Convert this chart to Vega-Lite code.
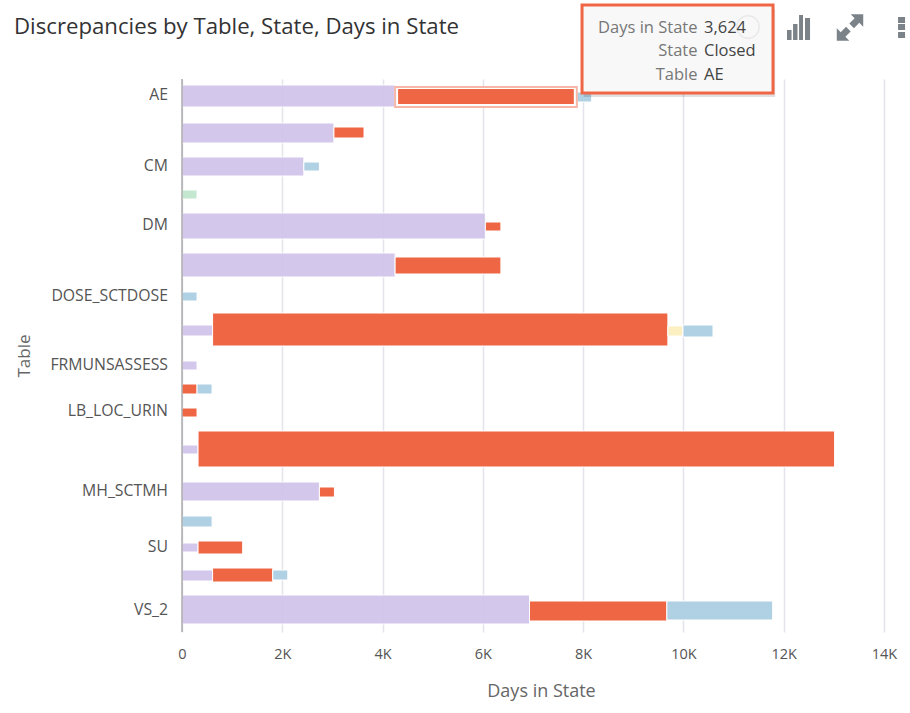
{
"$schema":"https://vega.github.io/schema/vega-lite/v6.json",
"autosize":"none",
"width":702,"height":553,
"padding":{"left":182,"top":79,"right":26,"bottom":81},
"background":"white",
"title":{"text":"Discrepancies by Table, State, Days in State","anchor":"start","frame":"group","dx":-168,"offset":-35,"font":"Open Sans","fontSize":22.2,"fontWeight":"normal","color":"#333333"},
"config":{"view":{"stroke":null},"font":"Open Sans"},
"datasets":{
"segments":[
{"Row":1,"State":"State A","Days":4250,"y0":6,"y1":28,"ord":1},
{"Row":1,"State":"Closed","Days":3624,"y0":8,"y1":28,"ord":2},
{"Row":1,"State":"State C","Days":296,"y0":13,"y1":23,"ord":3},
{"Row":2,"State":"State A","Days":3030,"y0":44,"y1":64,"ord":1},
{"Row":2,"State":"Closed","Days":600,"y0":48,"y1":59,"ord":2},
{"Row":3,"State":"State A","Days":2430,"y0":78,"y1":97,"ord":1},
{"Row":3,"State":"State C","Days":310,"y0":83,"y1":92,"ord":3},
{"Row":4,"State":"State D","Days":300,"y0":111,"y1":120,"ord":4},
{"Row":5,"State":"State A","Days":6050,"y0":134,"y1":160,"ord":1},
{"Row":5,"State":"Closed","Days":310,"y0":143,"y1":152,"ord":2},
{"Row":6,"State":"State A","Days":4250,"y0":174,"y1":198,"ord":1},
{"Row":6,"State":"Closed","Days":2110,"y0":178,"y1":195,"ord":2},
{"Row":7,"State":"State C","Days":300,"y0":213,"y1":222,"ord":3},
{"Row":8,"State":"State A","Days":610,"y0":246,"y1":257,"ord":1},
{"Row":8,"State":"Closed","Days":9080,"y0":234,"y1":267,"ord":2},
{"Row":8,"State":"State E","Days":300,"y0":247,"y1":257,"ord":3},
{"Row":8,"State":"State C","Days":600,"y0":246,"y1":258,"ord":4},
{"Row":9,"State":"State A","Days":300,"y0":282,"y1":291,"ord":1},
{"Row":10,"State":"Closed","Days":300,"y0":305,"y1":315,"ord":2},
{"Row":10,"State":"State C","Days":300,"y0":305,"y1":315,"ord":3},
{"Row":11,"State":"Closed","Days":300,"y0":329,"y1":338,"ord":2},
{"Row":12,"State":"State A","Days":320,"y0":366,"y1":375,"ord":1},
{"Row":12,"State":"Closed","Days":12695,"y0":352,"y1":388,"ord":2},
{"Row":13,"State":"State A","Days":2740,"y0":403,"y1":422,"ord":1},
{"Row":13,"State":"Closed","Days":300,"y0":408,"y1":418,"ord":2},
{"Row":14,"State":"State C","Days":600,"y0":437,"y1":448,"ord":3},
{"Row":15,"State":"State A","Days":320,"y0":464,"y1":473,"ord":1},
{"Row":15,"State":"Closed","Days":890,"y0":462,"y1":475,"ord":2},
{"Row":16,"State":"State A","Days":610,"y0":491,"y1":502,"ord":1},
{"Row":16,"State":"Closed","Days":1200,"y0":489,"y1":503,"ord":2},
{"Row":16,"State":"State C","Days":300,"y0":491,"y1":501,"ord":3},
{"Row":17,"State":"State A","Days":6930,"y0":516,"y1":545,"ord":1},
{"Row":17,"State":"Closed","Days":2740,"y0":522,"y1":542,"ord":2},
{"Row":17,"State":"State C","Days":2110,"y0":522,"y1":541,"ord":3}
],
"labels":[
{"Table":"AE","pos":16},{"Table":"CM","pos":87},{"Table":"DM","pos":146},{"Table":"DOSE_SCTDOSE","pos":217},
{"Table":"FRMUNSASSESS","pos":286},{"Table":"LB_LOC_URIN","pos":332},{"Table":"MH_SCTMH","pos":412},{"Table":"SU","pos":468},{"Table":"VS_2","pos":531}
],
"tipKeys":[
{"Key":"Days in State","Value":"3,624","pos":-51.5},
{"Key":"State","Value":"Closed","pos":-28.5},
{"Key":"Table","Value":"AE","pos":-4.5}
],
"tipBox":[{"a":7978,"b":11787,"c":-74,"d":14}],
"tipShadow":[{"a":8010,"b":11830,"c":-70,"d":18}],
"icons":[
{"a":12066,"b":12156,"c":-49,"d":-39},
{"a":12186,"b":12275,"c":-55,"d":-39},
{"a":12306,"b":12385,"c":-64,"d":-39},
{"a":12425,"b":12525,"c":-61,"d":-39},
{"a":14280,"b":14420,"c":-62,"d":-56},
{"a":14280,"b":14420,"c":-55,"d":-49},
{"a":14280,"b":14420,"c":-47,"d":-41}
],
"expand":[{"a":13322,"c":-51.5}],
"ghost":[{"a":11288,"c":-52}],
"axisLine":[{"a":0}]
},
"layer":[
{"data":{"name":"segments"},
"transform":[{"stack":"Days","groupby":["Row"],"sort":[{"field":"ord"}],"as":["x0","x1"]}],
"mark":{"type":"rect","stroke":"white","strokeWidth":1,"clip":false},
"encoding":{
"x":{"field":"x0","type":"quantitative","scale":{"domain":[0,14000],"nice":false,"zero":true},
 "axis":{"title":"Days in State","titleFont":"Open Sans","titleFontSize":18,"titleFontWeight":"normal","titleColor":"#666666","titlePadding":22,"titleX":359,"values":[0,2000,4000,6000,8000,10000,12000,14000],"labelExpr":"datum.value == 0 ? '0' : (datum.value/1000) + 'K'","labelFont":"Open Sans","labelFontSize":14.5,"labelColor":"#555555","labelPadding":15,"labelFlush":false,"ticks":false,"domain":false,"grid":true,"gridColor":"#e4e4ec","gridWidth":1.5,"labelOverlap":false}},
"x2":{"field":"x1"},
"y":{"field":"y0","type":"quantitative","scale":{"domain":[0,553],"reverse":true,"nice":false,"zero":false},
 "axis":{"title":"Table","titleFont":"Open Sans","titleFontSize":17,"titleFontWeight":"normal","titleColor":"#666666","titlePadding":149,"labels":false,"ticks":false,"grid":false,"domain":false}},
"y2":{"field":"y1"},
"color":{"field":"State","type":"nominal","legend":null,"scale":{"domain":["State A","Closed","State C","State D","State E"],"range":["#cfc2e9","#ef6645","#b0d1e4","#c4e7cf","#fcefc1"]}},
"opacity":{"condition":{"test":"datum.State == 'State A'","value":0.9},"value":1}
}},
{"data":{"name":"segments"},
"transform":[{"stack":"Days","groupby":["Row"],"sort":[{"field":"ord"}],"as":["x0","x1"]},{"filter":"datum.Row == 1 && datum.State == 'Closed'"}],
"mark":{"type":"rect","stroke":"#f7b7a8","strokeWidth":2,"fill":"white"},
"encoding":{"x":{"field":"x0","type":"quantitative"},"x2":{"field":"x1"},"y":{"field":"y0","type":"quantitative"},"y2":{"field":"y1"}}},
{"data":{"name":"segments"},
"transform":[{"stack":"Days","groupby":["Row"],"sort":[{"field":"ord"}],"as":["x0","x1"]},{"filter":"datum.Row == 1 && datum.State == 'Closed'"}],
"mark":{"type":"rect","fill":"#ef6645","xOffset":3,"x2Offset":-3,"yOffset":2,"y2Offset":-3},
"encoding":{"x":{"field":"x0","type":"quantitative"},"x2":{"field":"x1"},"y":{"field":"y0","type":"quantitative"},"y2":{"field":"y1"}}},
{"data":{"name":"axisLine"},"mark":{"type":"rule","color":"#888888","strokeWidth":1},
"encoding":{"x":{"field":"a","type":"quantitative"}}},
{"data":{"name":"labels"},
"mark":{"type":"text","align":"right","baseline":"middle","dx":-14,"font":"Open Sans","fontSize":15.8,"color":"#555555"},
"encoding":{"x":{"datum":0,"type":"quantitative"},"y":{"field":"pos","type":"quantitative"},"text":{"field":"Table"}}},
{"data":{"name":"tipShadow"},"mark":{"type":"rect","fill":"#000000","opacity":0.12,"clip":false},
"encoding":{"x":{"field":"a","type":"quantitative"},"x2":{"field":"b"},"y":{"field":"c","type":"quantitative"},"y2":{"field":"d"}}},
{"data":{"name":"tipBox"},"mark":{"type":"rect","fill":"#f8f8f8","stroke":"#ef6645","strokeWidth":3},
"encoding":{"x":{"field":"a","type":"quantitative"},"x2":{"field":"b"},"y":{"field":"c","type":"quantitative"},"y2":{"field":"d"}}},
{"data":{"name":"ghost"},"mark":{"type":"point","shape":"circle","filled":false,"size":500,"color":"#e9e9e9","strokeWidth":1.5,"opacity":1},
"encoding":{"x":{"field":"a","type":"quantitative"},"y":{"field":"c","type":"quantitative"}}},
{"data":{"name":"tipKeys"},"mark":{"type":"text","align":"right","baseline":"middle","font":"Open Sans","fontSize":16.5,"color":"#777777"},
"encoding":{"x":{"datum":10280,"type":"quantitative"},"y":{"field":"pos","type":"quantitative"},"text":{"field":"Key"}}},
{"data":{"name":"tipKeys"},"mark":{"type":"text","align":"left","baseline":"middle","font":"Open Sans","fontSize":16.5,"color":"#444444"},
"encoding":{"x":{"datum":10410,"type":"quantitative"},"y":{"field":"pos","type":"quantitative"},"text":{"field":"Value"}}},
{"data":{"name":"icons"},"mark":{"type":"rect","fill":"#7b8288"},
"encoding":{"x":{"field":"a","type":"quantitative"},"x2":{"field":"b"},"y":{"field":"c","type":"quantitative"},"y2":{"field":"d"}}},
{"data":{"name":"expand"},"mark":{"type":"point","filled":true,"opacity":1,"size":700,"color":"#7b8288","shape":"M0.05,-1 L1,-1 L1,-0.05 L0.7,-0.35 L0.3,0.05 L-0.05,-0.3 L0.35,-0.7 Z M-0.05,1 L-1,1 L-1,0.05 L-0.7,0.35 L-0.3,-0.05 L0.05,0.3 L-0.35,0.7 Z"},
"encoding":{"x":{"field":"a","type":"quantitative"},"y":{"field":"c","type":"quantitative"}}}
]
}
